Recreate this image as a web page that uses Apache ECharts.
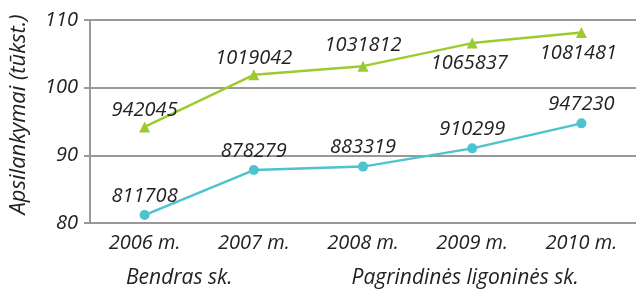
<!DOCTYPE html>
<html>
<head>
<meta charset="utf-8">
<script src="https://cdn.jsdelivr.net/npm/echarts@6/dist/echarts.min.js"></script>
<style>
  html,body{margin:0;padding:0;background:#fff}
  #chart{width:636px;height:290px}
</style>
</head>
<body>
<div id="chart"></div>
<script>
const years=['2006 m.','2007 m.','2008 m.','2009 m.','2010 m.']
// visits, raw counts as written on the chart
const bendras=[942045,1019042,1031812,1065837,1081481]
const pagrindines=[811708,878279,883319,910299,947230]
const greenLabelPos=['top','top','top','bottom','bottom']

const font='"Open Sans", sans-serif'
const txt={fontFamily:font,fontStyle:'italic',fontSize:20,color:'#222'}

const myChart=echarts.init(document.querySelector('#chart'))
const option={
  animation:false,
  grid:{left:83,right:-7,top:20,bottom:67},
  legend:{
    bottom:-4,
    left:116,
    itemWidth:0,
    itemHeight:0,
    itemGap:114,
    icon:'none',
    textStyle:Object.assign({},txt,{fontSize:21}),
    data:['Bendras sk.','Pagrindinės ligoninės sk.']
  },
  xAxis:{
    type:'category',
    data:years,
    axisLine:{lineStyle:{color:'#999',width:2}},
    axisTick:{length:6,lineStyle:{color:'#999',width:2}},
    axisLabel:Object.assign({},txt,{margin:10})
  },
  yAxis:{
    type:'value',
    min:80,max:110,interval:10,
    name:'Apsilankymai (tūkst.)',
    nameLocation:'middle',
    nameGap:60,
    nameTextStyle:Object.assign({},txt,{fontSize:22,padding:[0,0,0,14]}),
    axisLine:{show:true,lineStyle:{color:'#999',width:2}},
    axisTick:{show:true,length:6,lineStyle:{color:'#999',width:2}},
    splitLine:{lineStyle:{color:'#999',width:2}},
    axisLabel:Object.assign({},txt,{margin:12})
  },
  series:[
    {
      name:'Bendras sk.',
      type:'line',
      symbol:'triangle',
      symbolSize:11,
      itemStyle:{color:'#9ccb30'},
      lineStyle:{color:'#9ccb30',width:2.5},
      data:bendras.map((v,i)=>({
        value:v/10000,
        label:{show:true,position:greenLabelPos[i],distance:i>2?5:(i===2?5:1),offset:i>2?[-3,0]:[0,0],formatter:String(v)}
      })),
      label:txt
    },
    {
      name:'Pagrindinės ligoninės sk.',
      type:'line',
      symbol:'circle',
      symbolSize:10,
      itemStyle:{color:'#4cc3cf'},
      lineStyle:{color:'#4cc3cf',width:2.5},
      data:pagrindines.map(v=>({
        value:v/10000,
        label:{show:true,position:'top',distance:4,formatter:String(v)}
      })),
      label:txt
    }
  ]
}
myChart.setOption(option)
</script>
</body>
</html>
